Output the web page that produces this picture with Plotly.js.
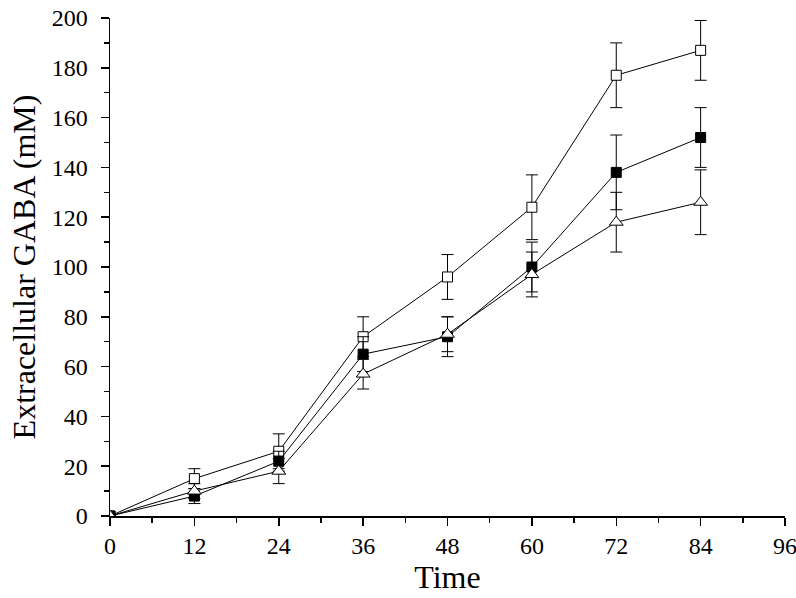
<!DOCTYPE html>
<html><head><meta charset="utf-8">
<script src="https://cdn.plot.ly/plotly-3.0.1.min.js"></script>
<style>html,body{margin:0;padding:0;background:#fff}#c{width:796px;height:598px}</style>
</head><body><div id="c"></div>
<script>
const time = [0, 12, 24, 36, 48, 60, 72, 84];
const openSq = [0, 15, 26, 72, 96, 124, 177, 187];
const openSqErr = [0, 4, 7, 8, 9, 13, 13, 12];
const filledSq = [0, 8, 22, 65, 72, 100, 138, 152];
const filledSqErr = [0, 3, 4, 7, 8, 10, 15, 12];
const triangle = [0, 10, 18, 57, 73, 97, 118, 126];
const triangleErr = [0, 3, 5, 6, 7, 9, 12, 13];
const xTicks = [0, 12, 24, 36, 48, 60, 72, 84, 96];

function tr(y, err, sym, size, fill) {
  return {
    x: time, y: y, type: 'scatter', mode: 'lines+markers', cliponaxis: true,
    line: {color: '#000', width: 1},
    marker: {symbol: sym, size: size, color: fill, line: {color: '#000', width: 1}},
    error_y: {type: 'data', array: err, visible: true, color: '#000', thickness: 1, width: 6},
    showlegend: false
  };
}
const data = [
  tr(openSq, openSqErr, 'square', 10, '#fff'),
  tr(filledSq, filledSqErr, 'square', 10, '#000'),
  tr(triangle, triangleErr, 'triangle-up', 12, '#fff')
];
const font = {family: '"Liberation Serif", "Times New Roman", serif', color: '#000'};
const layout = {
  width: 796, height: 598,
  margin: {l: 110, r: 11, t: 18, b: 82},
  paper_bgcolor: '#fff', plot_bgcolor: '#fff',
  font: font,
  xaxis: {
    range: [0, 96], tickvals: xTicks, ticktext: xTicks.map(String),
    automargin: false, ticklabeloverflow: 'allow',
    showgrid: false, zeroline: false, showline: true, linecolor: '#000', linewidth: 1.5,
    ticks: 'outside', ticklen: 8, tickwidth: 1.5, tickcolor: '#000',
    tickfont: Object.assign({}, font, {size: 24}),
    minor: {dtick: 6, tick0: 0, ticks: 'outside', ticklen: 5, tickwidth: 1.5, tickcolor: '#000'},
    title: {text: 'Time', font: Object.assign({}, font, {size: 32}), standoff: 4}
  },
  yaxis: {
    range: [0, 200], dtick: 20, tick0: 0,
    automargin: false,
    showgrid: false, zeroline: false, showline: true, linecolor: '#000', linewidth: 1.5,
    ticks: 'outside', ticklen: 8, tickwidth: 1.5, tickcolor: '#000', ticklabelstandoff: 8,
    tickfont: Object.assign({}, font, {size: 24}),
    minor: {dtick: 10, tick0: 0, ticks: 'outside', ticklen: 5, tickwidth: 1.5, tickcolor: '#000'},
    title: {text: 'Extracellular GABA (mM)', font: Object.assign({}, font, {size: 32}), standoff: 6}
  }
};
Plotly.newPlot('c', data, layout, {displayModeBar: false, staticPlot: true});
</script></body></html>
